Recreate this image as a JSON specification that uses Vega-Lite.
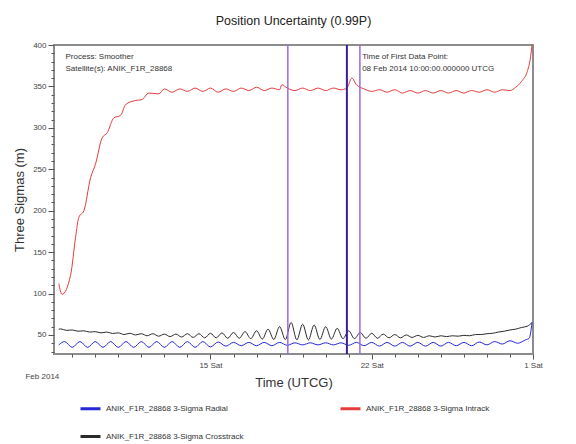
{
  "$schema": "https://vega.github.io/schema/vega-lite/v6.json",
  "width": 479,
  "height": 309,
  "padding": {"left": 13, "top": 14, "right": 5, "bottom": 2},
  "title": {"text": "Position Uncertainty (0.99P)", "fontSize": 12.5, "fontWeight": "normal", "font": "Liberation Sans", "color": "#222222", "offset": 14},
  "config": {
    "view": {"stroke": "#8c8c8c", "strokeWidth": 2},
    "font": "Liberation Sans",
    "axis": {"domain": false, "grid": false, "labelFont": "Liberation Sans", "labelFontSize": 8, "labelColor": "#444444", "tickColor": "#555555", "titleFont": "Liberation Sans", "titleFontWeight": "normal", "titleColor": "#333333", "titleFontSize": 13, "labelOverlap": false}
  },
  "resolve": {"axis": {"x": "independent", "y": "independent"}},
  "data": {"values": [
    {"s":"Crosstrack","t":"2014-02-08T10:00","v":57},
    {"s":"Crosstrack","t":"2014-02-08T12:00","v":57.3},
    {"s":"Crosstrack","t":"2014-02-08T18:00","v":55.5},
    {"s":"Crosstrack","t":"2014-02-09T00:00","v":56},
    {"s":"Crosstrack","t":"2014-02-09T06:00","v":54.5},
    {"s":"Crosstrack","t":"2014-02-09T12:00","v":55},
    {"s":"Crosstrack","t":"2014-02-09T18:00","v":53.5},
    {"s":"Crosstrack","t":"2014-02-10T00:00","v":54},
    {"s":"Crosstrack","t":"2014-02-10T06:00","v":52.5},
    {"s":"Crosstrack","t":"2014-02-10T12:00","v":53.5},
    {"s":"Crosstrack","t":"2014-02-10T18:00","v":51.8},
    {"s":"Crosstrack","t":"2014-02-11T00:00","v":52.5},
    {"s":"Crosstrack","t":"2014-02-11T06:00","v":50.5},
    {"s":"Crosstrack","t":"2014-02-11T12:00","v":52},
    {"s":"Crosstrack","t":"2014-02-11T18:00","v":50},
    {"s":"Crosstrack","t":"2014-02-12T00:00","v":51.5},
    {"s":"Crosstrack","t":"2014-02-12T06:00","v":49},
    {"s":"Crosstrack","t":"2014-02-12T12:00","v":51.5},
    {"s":"Crosstrack","t":"2014-02-12T18:00","v":48.5},
    {"s":"Crosstrack","t":"2014-02-13T00:00","v":51},
    {"s":"Crosstrack","t":"2014-02-13T06:00","v":48},
    {"s":"Crosstrack","t":"2014-02-13T12:00","v":51},
    {"s":"Crosstrack","t":"2014-02-13T18:00","v":47.5},
    {"s":"Crosstrack","t":"2014-02-14T00:00","v":51.5},
    {"s":"Crosstrack","t":"2014-02-14T06:00","v":47},
    {"s":"Crosstrack","t":"2014-02-14T12:00","v":51.5},
    {"s":"Crosstrack","t":"2014-02-14T18:00","v":46.5},
    {"s":"Crosstrack","t":"2014-02-15T00:00","v":52},
    {"s":"Crosstrack","t":"2014-02-15T06:00","v":46.5},
    {"s":"Crosstrack","t":"2014-02-15T12:00","v":52.5},
    {"s":"Crosstrack","t":"2014-02-15T18:00","v":46},
    {"s":"Crosstrack","t":"2014-02-16T00:00","v":53},
    {"s":"Crosstrack","t":"2014-02-16T06:00","v":46},
    {"s":"Crosstrack","t":"2014-02-16T12:00","v":54},
    {"s":"Crosstrack","t":"2014-02-16T18:00","v":45.5},
    {"s":"Crosstrack","t":"2014-02-17T00:00","v":55},
    {"s":"Crosstrack","t":"2014-02-17T06:00","v":45},
    {"s":"Crosstrack","t":"2014-02-17T12:00","v":57},
    {"s":"Crosstrack","t":"2014-02-17T18:00","v":44.5},
    {"s":"Crosstrack","t":"2014-02-18T00:00","v":60},
    {"s":"Crosstrack","t":"2014-02-18T06:00","v":44.5},
    {"s":"Crosstrack","t":"2014-02-18T12:00","v":65},
    {"s":"Crosstrack","t":"2014-02-18T18:00","v":44},
    {"s":"Crosstrack","t":"2014-02-19T00:00","v":63},
    {"s":"Crosstrack","t":"2014-02-19T06:00","v":44},
    {"s":"Crosstrack","t":"2014-02-19T12:00","v":62},
    {"s":"Crosstrack","t":"2014-02-19T18:00","v":44.5},
    {"s":"Crosstrack","t":"2014-02-20T00:00","v":60},
    {"s":"Crosstrack","t":"2014-02-20T06:00","v":45},
    {"s":"Crosstrack","t":"2014-02-20T12:00","v":58},
    {"s":"Crosstrack","t":"2014-02-20T18:00","v":45.5},
    {"s":"Crosstrack","t":"2014-02-21T00:00","v":55},
    {"s":"Crosstrack","t":"2014-02-21T06:00","v":45.5},
    {"s":"Crosstrack","t":"2014-02-21T12:00","v":53},
    {"s":"Crosstrack","t":"2014-02-21T18:00","v":46},
    {"s":"Crosstrack","t":"2014-02-22T00:00","v":52},
    {"s":"Crosstrack","t":"2014-02-22T06:00","v":46},
    {"s":"Crosstrack","t":"2014-02-22T12:00","v":51},
    {"s":"Crosstrack","t":"2014-02-22T18:00","v":46.5},
    {"s":"Crosstrack","t":"2014-02-23T00:00","v":50.5},
    {"s":"Crosstrack","t":"2014-02-23T06:00","v":46.5},
    {"s":"Crosstrack","t":"2014-02-23T12:00","v":50},
    {"s":"Crosstrack","t":"2014-02-23T18:00","v":47},
    {"s":"Crosstrack","t":"2014-02-24T00:00","v":49.5},
    {"s":"Crosstrack","t":"2014-02-24T06:00","v":47},
    {"s":"Crosstrack","t":"2014-02-24T12:00","v":49},
    {"s":"Crosstrack","t":"2014-02-24T18:00","v":47.5},
    {"s":"Crosstrack","t":"2014-02-25T00:00","v":49},
    {"s":"Crosstrack","t":"2014-02-25T06:00","v":48},
    {"s":"Crosstrack","t":"2014-02-25T12:00","v":49},
    {"s":"Crosstrack","t":"2014-02-25T18:00","v":48.5},
    {"s":"Crosstrack","t":"2014-02-26T00:00","v":49.5},
    {"s":"Crosstrack","t":"2014-02-26T06:00","v":49},
    {"s":"Crosstrack","t":"2014-02-26T12:00","v":50.5},
    {"s":"Crosstrack","t":"2014-02-26T18:00","v":50.5},
    {"s":"Crosstrack","t":"2014-02-27T00:00","v":51.5},
    {"s":"Crosstrack","t":"2014-02-27T06:00","v":52},
    {"s":"Crosstrack","t":"2014-02-27T12:00","v":53.5},
    {"s":"Crosstrack","t":"2014-02-27T18:00","v":54.5},
    {"s":"Crosstrack","t":"2014-02-28T00:00","v":56},
    {"s":"Crosstrack","t":"2014-02-28T06:00","v":57},
    {"s":"Crosstrack","t":"2014-02-28T12:00","v":59},
    {"s":"Crosstrack","t":"2014-02-28T18:00","v":60.5},
    {"s":"Crosstrack","t":"2014-02-28T23:00","v":65},

    {"s":"Radial","t":"2014-02-08T10:00","v":38},
    {"s":"Radial","t":"2014-02-08T16:00","v":42},
    {"s":"Radial","t":"2014-02-09T00:00","v":35},
    {"s":"Radial","t":"2014-02-09T08:00","v":42},
    {"s":"Radial","t":"2014-02-09T16:00","v":35},
    {"s":"Radial","t":"2014-02-10T00:00","v":42},
    {"s":"Radial","t":"2014-02-10T08:00","v":35},
    {"s":"Radial","t":"2014-02-10T16:00","v":42},
    {"s":"Radial","t":"2014-02-11T00:00","v":35},
    {"s":"Radial","t":"2014-02-11T08:00","v":42},
    {"s":"Radial","t":"2014-02-11T16:00","v":35},
    {"s":"Radial","t":"2014-02-12T00:00","v":42},
    {"s":"Radial","t":"2014-02-12T08:00","v":35},
    {"s":"Radial","t":"2014-02-12T16:00","v":42},
    {"s":"Radial","t":"2014-02-13T00:00","v":35},
    {"s":"Radial","t":"2014-02-13T08:00","v":42},
    {"s":"Radial","t":"2014-02-13T16:00","v":35},
    {"s":"Radial","t":"2014-02-14T00:00","v":42},
    {"s":"Radial","t":"2014-02-14T08:00","v":35},
    {"s":"Radial","t":"2014-02-14T16:00","v":42},
    {"s":"Radial","t":"2014-02-15T00:00","v":35.5},
    {"s":"Radial","t":"2014-02-15T08:00","v":41.5},
    {"s":"Radial","t":"2014-02-15T16:00","v":36.5},
    {"s":"Radial","t":"2014-02-16T00:00","v":41},
    {"s":"Radial","t":"2014-02-16T08:00","v":37},
    {"s":"Radial","t":"2014-02-16T16:00","v":41},
    {"s":"Radial","t":"2014-02-17T00:00","v":37},
    {"s":"Radial","t":"2014-02-17T08:00","v":41},
    {"s":"Radial","t":"2014-02-17T16:00","v":37},
    {"s":"Radial","t":"2014-02-18T00:00","v":41},
    {"s":"Radial","t":"2014-02-18T08:00","v":37.5},
    {"s":"Radial","t":"2014-02-18T16:00","v":40.5},
    {"s":"Radial","t":"2014-02-19T00:00","v":38},
    {"s":"Radial","t":"2014-02-19T08:00","v":40.5},
    {"s":"Radial","t":"2014-02-19T16:00","v":38},
    {"s":"Radial","t":"2014-02-20T00:00","v":40.5},
    {"s":"Radial","t":"2014-02-20T08:00","v":38},
    {"s":"Radial","t":"2014-02-20T16:00","v":40.5},
    {"s":"Radial","t":"2014-02-21T00:00","v":37.5},
    {"s":"Radial","t":"2014-02-21T08:00","v":41},
    {"s":"Radial","t":"2014-02-21T16:00","v":37},
    {"s":"Radial","t":"2014-02-22T00:00","v":41},
    {"s":"Radial","t":"2014-02-22T08:00","v":36.5},
    {"s":"Radial","t":"2014-02-22T16:00","v":41},
    {"s":"Radial","t":"2014-02-23T00:00","v":36.5},
    {"s":"Radial","t":"2014-02-23T08:00","v":41},
    {"s":"Radial","t":"2014-02-23T16:00","v":36.5},
    {"s":"Radial","t":"2014-02-24T00:00","v":41},
    {"s":"Radial","t":"2014-02-24T08:00","v":36.5},
    {"s":"Radial","t":"2014-02-24T16:00","v":41},
    {"s":"Radial","t":"2014-02-25T00:00","v":36.5},
    {"s":"Radial","t":"2014-02-25T08:00","v":41},
    {"s":"Radial","t":"2014-02-25T16:00","v":37},
    {"s":"Radial","t":"2014-02-26T00:00","v":41},
    {"s":"Radial","t":"2014-02-26T08:00","v":37},
    {"s":"Radial","t":"2014-02-26T16:00","v":41.5},
    {"s":"Radial","t":"2014-02-27T00:00","v":38},
    {"s":"Radial","t":"2014-02-27T08:00","v":42},
    {"s":"Radial","t":"2014-02-27T16:00","v":39},
    {"s":"Radial","t":"2014-02-28T00:00","v":43},
    {"s":"Radial","t":"2014-02-28T08:00","v":40},
    {"s":"Radial","t":"2014-02-28T16:00","v":44},
    {"s":"Radial","t":"2014-02-28T20:00","v":46},
    {"s":"Radial","t":"2014-02-28T23:00","v":65},

    {"s":"Intrack","t":"2014-02-08T10:00","v":112},
    {"s":"Intrack","t":"2014-02-08T13:20","v":99},
    {"s":"Intrack","t":"2014-02-08T22:15","v":122},
    {"s":"Intrack","t":"2014-02-09T03:30","v":168},
    {"s":"Intrack","t":"2014-02-09T06:50","v":192},
    {"s":"Intrack","t":"2014-02-09T12:10","v":200},
    {"s":"Intrack","t":"2014-02-09T19:10","v":240},
    {"s":"Intrack","t":"2014-02-10T00:10","v":256},
    {"s":"Intrack","t":"2014-02-10T07:10","v":288},
    {"s":"Intrack","t":"2014-02-10T12:25","v":294},
    {"s":"Intrack","t":"2014-02-10T19:20","v":312},
    {"s":"Intrack","t":"2014-02-11T02:20","v":315},
    {"s":"Intrack","t":"2014-02-11T07:35","v":328},
    {"s":"Intrack","t":"2014-02-11T17:55","v":333},
    {"s":"Intrack","t":"2014-02-12T00:25","v":334},
    {"s":"Intrack","t":"2014-02-12T07:50","v":342},
    {"s":"Intrack","t":"2014-02-12T18:10","v":341},
    {"s":"Intrack","t":"2014-02-13T00:00","v":347},
    {"s":"Intrack","t":"2014-02-13T08:00","v":343},
    {"s":"Intrack","t":"2014-02-13T16:00","v":347},
    {"s":"Intrack","t":"2014-02-14T00:00","v":344},
    {"s":"Intrack","t":"2014-02-14T08:00","v":348},
    {"s":"Intrack","t":"2014-02-14T16:00","v":344},
    {"s":"Intrack","t":"2014-02-15T00:00","v":348},
    {"s":"Intrack","t":"2014-02-15T08:00","v":343},
    {"s":"Intrack","t":"2014-02-15T16:00","v":347},
    {"s":"Intrack","t":"2014-02-16T00:00","v":344},
    {"s":"Intrack","t":"2014-02-16T08:00","v":348},
    {"s":"Intrack","t":"2014-02-16T16:00","v":345},
    {"s":"Intrack","t":"2014-02-17T00:00","v":349},
    {"s":"Intrack","t":"2014-02-17T08:00","v":345},
    {"s":"Intrack","t":"2014-02-17T16:00","v":348},
    {"s":"Intrack","t":"2014-02-18T00:00","v":346},
    {"s":"Intrack","t":"2014-02-18T02:20","v":352},
    {"s":"Intrack","t":"2014-02-18T08:00","v":348},
    {"s":"Intrack","t":"2014-02-18T16:00","v":345},
    {"s":"Intrack","t":"2014-02-19T00:00","v":348},
    {"s":"Intrack","t":"2014-02-19T08:00","v":345},
    {"s":"Intrack","t":"2014-02-19T16:00","v":348},
    {"s":"Intrack","t":"2014-02-20T00:00","v":345},
    {"s":"Intrack","t":"2014-02-20T08:00","v":348},
    {"s":"Intrack","t":"2014-02-20T16:00","v":346},
    {"s":"Intrack","t":"2014-02-20T22:00","v":348},
    {"s":"Intrack","t":"2014-02-21T03:20","v":360},
    {"s":"Intrack","t":"2014-02-21T08:00","v":352},
    {"s":"Intrack","t":"2014-02-21T16:00","v":347},
    {"s":"Intrack","t":"2014-02-22T00:00","v":344},
    {"s":"Intrack","t":"2014-02-22T08:00","v":346},
    {"s":"Intrack","t":"2014-02-22T16:00","v":343},
    {"s":"Intrack","t":"2014-02-23T00:00","v":346},
    {"s":"Intrack","t":"2014-02-23T08:00","v":342},
    {"s":"Intrack","t":"2014-02-23T16:00","v":345},
    {"s":"Intrack","t":"2014-02-24T00:00","v":342},
    {"s":"Intrack","t":"2014-02-24T08:00","v":345},
    {"s":"Intrack","t":"2014-02-24T16:00","v":342},
    {"s":"Intrack","t":"2014-02-25T00:00","v":345},
    {"s":"Intrack","t":"2014-02-25T08:00","v":342},
    {"s":"Intrack","t":"2014-02-25T16:00","v":345},
    {"s":"Intrack","t":"2014-02-26T00:00","v":342},
    {"s":"Intrack","t":"2014-02-26T08:00","v":345},
    {"s":"Intrack","t":"2014-02-26T16:00","v":343},
    {"s":"Intrack","t":"2014-02-27T00:00","v":346},
    {"s":"Intrack","t":"2014-02-27T08:00","v":343},
    {"s":"Intrack","t":"2014-02-27T16:00","v":346},
    {"s":"Intrack","t":"2014-02-28T00:00","v":345},
    {"s":"Intrack","t":"2014-02-28T06:00","v":349},
    {"s":"Intrack","t":"2014-02-28T12:00","v":356},
    {"s":"Intrack","t":"2014-02-28T18:00","v":368},
    {"s":"Intrack","t":"2014-02-28T21:00","v":382},
    {"s":"Intrack","t":"2014-02-28T23:00","v":400}
  ]},
  "layer": [
    {
      "mark": {"type": "line", "strokeWidth": 1, "interpolate": "monotone", "clip": true},
      "encoding": {
        "x": {
          "field": "t", "type": "temporal",
          "scale": {"domain": [{"year": 2014, "month": 2, "date": 8, "hours": 5}, {"year": 2014, "month": 3, "date": 1}]},
          "axis": {
            "title": "Time (UTCG)",
            "titlePadding": -4,
            "orient": "bottom",
            "values": [
              {"year": 2014, "month": 2, "date": 8, "hours": 10},
              {"year": 2014, "month": 2, "date": 15},
              {"year": 2014, "month": 2, "date": 22},
              {"year": 2014, "month": 3, "date": 1}
            ],
            "labelExpr": "hours(datum.value) == 10 ? ['', 'Feb 2014'] : timeFormat(datum.value, '%-d %a')",
            "labelAlign": {"condition": {"test": "hours(datum.value) == 10", "value": "right"}, "value": "center"},
            "labelLineHeight": 11,
            "labelOverlap": false,
            "labelFlush": false,
            "tickSize": 5,
            "tickOpacity": {"condition": {"test": "hours(datum.value) == 10", "value": 0}, "value": 1}
          }
        },
        "y": {
          "field": "v", "type": "quantitative",
          "scale": {"domain": [27, 400], "nice": false, "zero": false},
          "axis": {
            "title": "Three Sigmas (m)",
            "titlePadding": 6,
            "orient": "left",
            "values": [50, 100, 150, 200, 250, 300, 350, 400],
            "labelOverlap": false,
            "tickSize": 6
          }
        },
        "color": {
          "field": "s", "type": "nominal",
          "scale": {"domain": ["Radial", "Intrack", "Crosstrack"], "range": ["#2626d9", "#e43c3c", "#2b2b2b"]},
          "legend": {
            "title": null, "orient": "none", "legendX": 25, "legendY": 352,
            "columns": 2, "direction": "horizontal",
            "symbolType": "stroke", "symbolStrokeWidth": 3, "symbolSize": 400,
            "labelFontSize": 8, "labelColor": "#333333", "labelFont": "Liberation Sans",
            "columnPadding": 90, "rowPadding": 10, "labelLimit": 300,
            "labelExpr": "'ANIK_F1R_28868 3-Sigma ' + datum.label"
          }
        }
      }
    },
    {
      "data": {"values": [{"t": "2014-02-18T08:35"}, {"t": "2014-02-21T11:40"}]},
      "mark": {"type": "rule", "color": "#9c6ae0", "strokeWidth": 1.5},
      "encoding": {
        "x": {
          "field": "t", "type": "temporal",
          "axis": {
            "orient": "bottom", "title": null, "labels": false, "tickSize": 3,
            "values": [
              {"year": 2014, "month": 2, "date": 9}, {"year": 2014, "month": 2, "date": 10}, {"year": 2014, "month": 2, "date": 11},
              {"year": 2014, "month": 2, "date": 12}, {"year": 2014, "month": 2, "date": 13}, {"year": 2014, "month": 2, "date": 14},
              {"year": 2014, "month": 2, "date": 16}, {"year": 2014, "month": 2, "date": 17},
              {"year": 2014, "month": 2, "date": 18}, {"year": 2014, "month": 2, "date": 19}, {"year": 2014, "month": 2, "date": 20},
              {"year": 2014, "month": 2, "date": 21}, {"year": 2014, "month": 2, "date": 23},
              {"year": 2014, "month": 2, "date": 24}, {"year": 2014, "month": 2, "date": 25}, {"year": 2014, "month": 2, "date": 26},
              {"year": 2014, "month": 2, "date": 27}, {"year": 2014, "month": 2, "date": 28}
            ]
          }
        }
      }
    },
    {
      "data": {"values": [{"t": "2014-02-20T22:07"}]},
      "mark": {"type": "rule", "color": "#3d1a9e", "strokeWidth": 2},
      "encoding": {"x": {"field": "t", "type": "temporal", "axis": null}}
    },
    {
      "data": {"values": [{}]},
      "mark": {"type": "text", "align": "left", "baseline": "top", "fontSize": 8, "color": "#333333", "lineHeight": 12, "font": "Liberation Sans"},
      "encoding": {
        "x": {"datum": {"year": 2014, "month": 2, "date": 8, "hours": 17}, "type": "temporal", "axis": null},
        "y": {
          "datum": 390, "type": "quantitative",
          "axis": {
            "orient": "left", "title": null, "labels": false, "tickSize": 3,
            "values": [30,40,60,70,80,90,110,120,130,140,160,170,180,190,210,220,230,240,260,270,280,290,310,320,330,340,360,370,380,390]
          }
        },
        "text": {"value": ["Process: Smoother", "Satellite(s): ANIK_F1R_28868"]}
      }
    },
    {
      "data": {"values": [{}]},
      "mark": {"type": "text", "align": "left", "baseline": "top", "fontSize": 8, "color": "#333333", "lineHeight": 12, "font": "Liberation Sans"},
      "encoding": {
        "x": {"datum": {"year": 2014, "month": 2, "date": 21, "hours": 14}, "type": "temporal", "axis": null},
        "y": {"datum": 390, "type": "quantitative", "axis": null},
        "text": {"value": ["Time of First Data Point:", "08 Feb 2014 10:00:00.000000 UTCG"]}
      }
    }
  ]
}
